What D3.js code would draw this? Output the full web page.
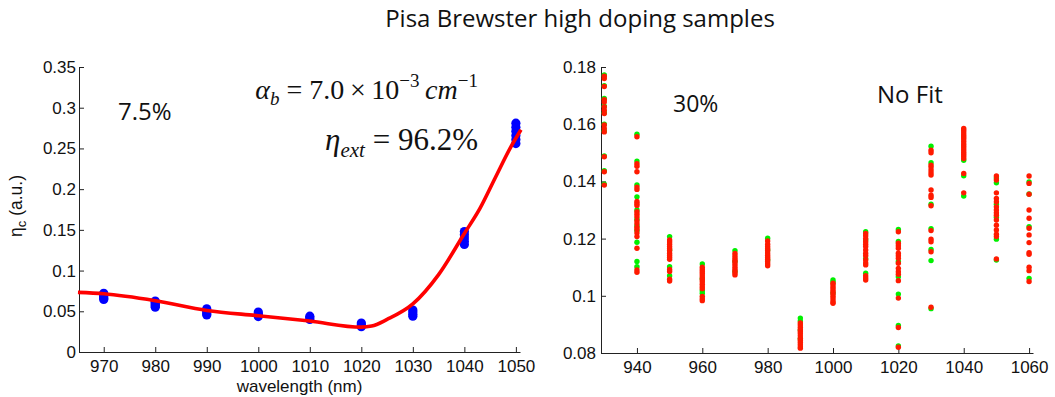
<!DOCTYPE html>
<html>
<head>
<meta charset="utf-8">
<script src="https://cdn.jsdelivr.net/npm/d3@7"></script>
<style>
  body { margin: 0; background: #fff; }
  svg { display: block; }
  .tick text { font-family: "Liberation Sans", Arial, sans-serif; font-size: 17px; fill: #111; }
  .axis path, .axis line { stroke: #222; }
</style>
</head>
<body>
<svg id="chart" width="1055" height="397"></svg>
<script>
// left panel: 7.5% sample, blue measurements + red fit
const leftColumns = [970, 980, 990, 1000, 1010, 1020, 1030, 1040, 1050];
const leftValues = [
  [0.072, 0.0705, 0.069, 0.0675, 0.066, 0.0645],
  [0.0625, 0.061, 0.0595, 0.058, 0.0565, 0.055],
  [0.053, 0.051, 0.049, 0.047, 0.0455],
  [0.049, 0.047, 0.045, 0.0435],
  [0.044, 0.042, 0.040],
  [0.0355, 0.0335, 0.031],
  [0.0515, 0.049, 0.0465, 0.044],
  [0.148, 0.144, 0.140, 0.136, 0.132],
  [0.281, 0.276, 0.271, 0.266, 0.261, 0.256]
];
const fitWavelengths = [965, 970, 980, 990, 1000, 1010, 1020, 1022, 1025, 1030, 1035, 1040, 1043, 1046, 1049, 1051];
const fitValues = [0.0732, 0.0715, 0.063, 0.051, 0.0445, 0.038, 0.0305, 0.0318, 0.040, 0.059, 0.095, 0.1455, 0.176, 0.214, 0.2516, 0.273];
const leftXTicks = [970, 980, 990, 1000, 1010, 1020, 1030, 1040, 1050];
const leftYTicks = [0, 0.05, 0.1, 0.15, 0.2, 0.25, 0.3, 0.35];

// right panel: 30% sample, no fit
const rightColumns = [930, 940, 950, 960, 970, 980, 990, 1000, 1010, 1020, 1030, 1040, 1050, 1060];
const rightRed = [
  [0.1768, 0.176, 0.1732, 0.1686, 0.1678, 0.166, 0.1649, 0.1637, 0.1597, 0.1585, 0.1573, 0.1486, 0.1434, 0.1387],
  [0.1556, 0.1462, 0.1453, 0.1434, 0.138, 0.1372, 0.133, 0.1323, 0.1316, 0.1294, 0.1285, 0.1276, 0.1262, 0.1253, 0.124, 0.1232, 0.122, 0.1207, 0.1166, 0.109, 0.1082],
  [0.1195, 0.1188, 0.118, 0.1172, 0.1165, 0.1158, 0.1149, 0.1142, 0.1135, 0.1128, 0.1092, 0.1085, 0.1058, 0.1052],
  [0.11, 0.1092, 0.1085, 0.1078, 0.107, 0.1062, 0.1055, 0.1048, 0.104, 0.1032, 0.1025, 0.0998, 0.099, 0.0983],
  [0.1148, 0.114, 0.1132, 0.1125, 0.1118, 0.111, 0.1102, 0.1095, 0.1088, 0.108, 0.1073],
  [0.1192, 0.118, 0.1172, 0.1165, 0.1158, 0.115, 0.1142, 0.1135, 0.1128, 0.112, 0.1112, 0.1105],
  [0.0905, 0.0898, 0.089, 0.0882, 0.0875, 0.0868, 0.086, 0.0852, 0.0845, 0.0838, 0.083, 0.0822, 0.0817],
  [0.1044, 0.1038, 0.103, 0.1022, 0.1015, 0.1008, 0.1, 0.0993, 0.0985, 0.0978, 0.0974],
  [0.1218, 0.121, 0.12, 0.1189, 0.118, 0.1172, 0.116, 0.1149, 0.114, 0.1125, 0.1115, 0.1108, 0.107, 0.1062, 0.1055],
  [0.1224, 0.1184, 0.1175, 0.1166, 0.1149, 0.114, 0.1131, 0.1114, 0.1096, 0.1084, 0.1075, 0.1053, 0.0992, 0.0889, 0.082],
  [0.1509, 0.15, 0.1457, 0.145, 0.144, 0.143, 0.1422, 0.137, 0.1352, 0.1344, 0.1315, 0.1228, 0.1198, 0.1189, 0.1154, 0.096],
  [0.1585, 0.1578, 0.157, 0.1562, 0.1555, 0.1548, 0.154, 0.1532, 0.1525, 0.1518, 0.151, 0.1502, 0.1495, 0.1488, 0.148, 0.1428, 0.136],
  [0.1419, 0.1405, 0.136, 0.134, 0.1329, 0.1311, 0.13, 0.129, 0.1282, 0.1265, 0.1247, 0.123, 0.1215, 0.1207, 0.1129],
  [0.1419, 0.1393, 0.1355, 0.13, 0.1271, 0.1236, 0.1213, 0.1186, 0.1151, 0.1145, 0.11, 0.1088, 0.105]
];
const rightGreen = [
  [0.1772, 0.1735, 0.169, 0.1663, 0.164, 0.16, 0.1576, 0.1489, 0.1437, 0.139],
  [0.1565, 0.1471, 0.1388, 0.1346, 0.13, 0.1268, 0.1245, 0.1228, 0.1187, 0.112, 0.1102],
  [0.1207, 0.116, 0.1102, 0.107],
  [0.1111, 0.106, 0.1018, 0.1009],
  [0.1158, 0.112, 0.1085],
  [0.1201, 0.116, 0.1125],
  [0.0922, 0.0912, 0.088, 0.085],
  [0.1055, 0.1048, 0.101],
  [0.1224, 0.1195, 0.113, 0.1079],
  [0.1232, 0.119, 0.112, 0.1067, 0.1006, 0.0896, 0.0825],
  [0.1523, 0.1465, 0.132, 0.1235, 0.1162, 0.1123, 0.0955],
  [0.1474, 0.142, 0.1349],
  [0.1412, 0.1395, 0.132, 0.1275, 0.1198, 0.1125],
  [0.1398, 0.1356, 0.1242, 0.1061]
];
const rightXTicks = [940, 960, 980, 1000, 1020, 1040, 1060];
const rightYTicks = [0.08, 0.1, 0.12, 0.14, 0.16, 0.18];

const svg = d3.select("#chart");

// title
svg.append("text")
  .attr("x", 580).attr("y", 27)
  .attr("text-anchor", "middle")
  .style("font-family", "'Open Sans', sans-serif")
  .style("font-size", "24px")
  .style("fill", "#111")
  .text("Pisa Brewster high doping samples");

// ---------- LEFT PANEL ----------
const xL = d3.scaleLinear().domain([965.2, 1050.8]).range([79, 520]);
const yL = d3.scaleLinear().domain([0, 0.35]).range([352, 67]);

const gL = svg.append("g");

gL.append("g")
  .attr("class", "axis")
  .attr("transform", "translate(0," + yL(0) + ")")
  .call(d3.axisBottom(xL).tickValues(leftXTicks).tickFormat(d3.format("d")).tickSize(-5).tickPadding(8).tickSizeOuter(0));

gL.append("g")
  .attr("class", "axis")
  .attr("transform", "translate(" + xL.range()[0] + ",0)")
  .call(d3.axisLeft(yL).tickValues(leftYTicks).tickFormat(d3.format("~g")).tickSize(-5).tickPadding(3).tickSizeOuter(0));

// blue measured points
leftColumns.forEach(function (wl, i) {
  gL.selectAll(null)
    .data(leftValues[i])
    .enter()
    .append("circle")
    .attr("cx", xL(wl))
    .attr("cy", (d) => yL(d))
    .attr("r", 4.6)
    .attr("fill", "#0000ff");
});

// red fit
const fitLine = d3.line()
  .x((d) => xL(d[0]))
  .y((d) => yL(d[1]))
  .curve(d3.curveMonotoneX);

gL.append("path")
  .datum(d3.zip(fitWavelengths, fitValues))
  .attr("d", fitLine)
  .attr("fill", "none")
  .attr("stroke", "#ff0000")
  .attr("stroke-width", 3.6)
  .attr("stroke-linejoin", "round");

// labels
gL.append("text")
  .attr("x", (xL.range()[0] + xL.range()[1]) / 2).attr("y", 392)
  .attr("text-anchor", "middle")
  .style("font-family", "'Liberation Sans', Arial, sans-serif")
  .style("font-size", "17px")
  .style("fill", "#111")
  .text("wavelength (nm)");

const yLab = gL.append("text")
  .attr("transform", "translate(22," + 206 + ") rotate(-90)")
  .attr("text-anchor", "middle")
  .style("font-family", "'Liberation Sans', Arial, sans-serif")
  .style("font-size", "17.5px")
  .style("fill", "#111");
yLab.append("tspan").text("η");
yLab.append("tspan").attr("dy", 4).style("font-size", "13px").text("c");
yLab.append("tspan").attr("dy", -4).text(" (a.u.)");

gL.append("text")
  .attr("x", 118).attr("y", 120)
  .style("font-family", "'Open Sans', sans-serif")
  .style("font-size", "24px")
  .style("fill", "#111")
  .text("7.5%");

// formula lines
const f1 = gL.append("text")
  .attr("x", 478).attr("y", 99)
  .attr("text-anchor", "end")
  .style("font-family", "'Liberation Serif', 'Times New Roman', serif")
  .style("font-size", "28px")
  .style("fill", "#111");
f1.append("tspan").style("font-style", "italic").text("α");
f1.append("tspan").attr("dy", 6).style("font-style", "italic").style("font-size", "19px").text("b");
f1.append("tspan").attr("dy", -6).text(" = 7.0\u2009×\u200910");
f1.append("tspan").attr("dy", -12).style("font-size", "19px").text("−3");
f1.append("tspan").attr("dy", 12).style("font-style", "italic").text("\u2009cm");
f1.append("tspan").attr("dy", -12).style("font-size", "19px").text("−1");

const f2 = gL.append("text")
  .attr("x", 478).attr("y", 150)
  .attr("text-anchor", "end")
  .style("font-family", "'Liberation Serif', 'Times New Roman', serif")
  .style("font-size", "31px")
  .style("fill", "#111");
f2.append("tspan").style("font-style", "italic").text("η");
f2.append("tspan").attr("dy", 7).style("font-style", "italic").style("font-size", "21px").text("ext");
f2.append("tspan").attr("dy", -7).text(" = 96.2%");

// ---------- RIGHT PANEL ----------
const xR = d3.scaleLinear().domain([929, 1061.2]).range([601, 1033]);
const yR = d3.scaleLinear().domain([0.08, 0.18]).range([353, 67]);

const gR = svg.append("g");

gR.append("g")
  .attr("class", "axis")
  .attr("transform", "translate(0," + yR(0.08) + ")")
  .call(d3.axisBottom(xR).tickValues(rightXTicks).tickFormat(d3.format("d")).tickSize(-5).tickPadding(8).tickSizeOuter(0));

gR.append("g")
  .attr("class", "axis")
  .attr("transform", "translate(" + xR.range()[0] + ",0)")
  .call(d3.axisLeft(yR).tickValues(rightYTicks).tickFormat(d3.format(".2~f")).tickSize(-5).tickPadding(5).tickSizeOuter(0));

rightColumns.forEach(function (wl, i) {
  gR.selectAll(null)
    .data(rightGreen[i])
    .enter()
    .append("circle")
    .attr("cx", xR(wl))
    .attr("cy", (d) => yR(d))
    .attr("r", 2.7)
    .attr("fill", "#00f000");
});
rightColumns.forEach(function (wl, i) {
  gR.selectAll(null)
    .data(rightRed[i])
    .enter()
    .append("circle")
    .attr("cx", xR(wl))
    .attr("cy", (d) => yR(d))
    .attr("r", 2.7)
    .attr("fill", "#ff1a00");
});

gR.append("text")
  .attr("x", 673).attr("y", 112)
  .style("font-family", "'Open Sans', sans-serif")
  .style("font-size", "23px")
  .style("fill", "#111")
  .text("30%");

gR.append("text")
  .attr("x", 877).attr("y", 103)
  .style("font-family", "'Open Sans', sans-serif")
  .style("font-size", "24px")
  .style("fill", "#111")
  .text("No Fit");
</script>
</body>
</html>
